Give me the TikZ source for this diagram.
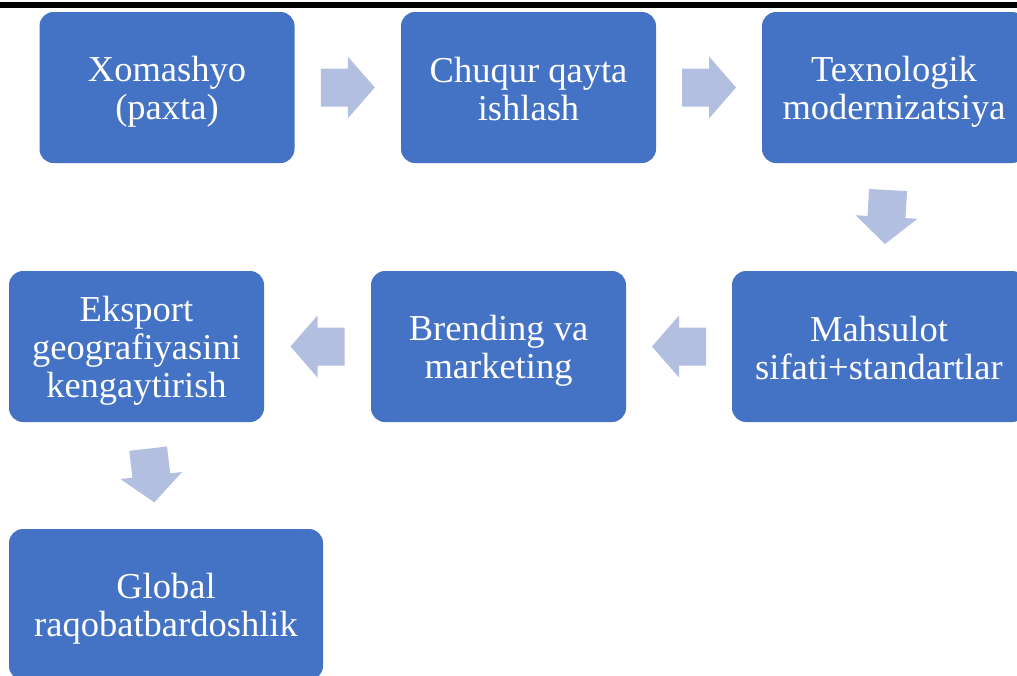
\documentclass[tikz,border=0pt]{standalone}
\usepackage{fontspec}
\setmainfont{Liberation Serif}
\usetikzlibrary{calc}
\definecolor{boxblue}{HTML}{4472C4}
\definecolor{arrowblue}{RGB}{178,191,224}
\newcommand\topst{\rule{0pt}{33pt}}
\newcommand\botst{\rule[-6pt]{0pt}{6pt}}
\tikzset{
 box/.style={fill=boxblue, rounded corners=14pt, text=white, align=center,
   font=\fontsize{36.5}{38}\selectfont, inner sep=0pt, minimum height=151pt},
 barrow/.pic={\fill[arrowblue] (-27,-19) -- (0,-19) -- (0,-31) -- (27,0) -- (0,31) -- (0,19) -- (-27,19) -- cycle;}
}
\begin{document}
\begin{tikzpicture}[x=1pt,y=-1pt]
\useasboundingbox (0,0) rectangle (1017,675);
\clip (0,0) rectangle (1017,675);
\fill[black] (0,1.5) rectangle (1017,7.5);
\node[box, minimum width=255pt] (b1) at (167,87.5) {\topst Xomashyo\\(paxta)\botst};
\node[box, minimum width=255pt] (b2) at (528.5,87.5) {\topst Chuqur qayta\\ishlash\botst};
\node[box, minimum width=264pt] (b3) at (894,87.5) {\topst Texnologik\\modernizatsiya\botst};
\node[box, minimum width=294pt] (b4) at (879,346.5) {\topst Mahsulot\\sifati+standartlar\botst};
\node[box, minimum width=255pt] (b5) at (498.5,346.5) {\topst Brending va\\marketing\botst};
\node[box, minimum width=255pt] (b6) at (136.5,346.5) {\topst Eksport\\geografiyasini\\kengaytirish\botst};
\node[box, minimum width=314pt] (b7) at (166,604.5) {\topst Global\\raqobatbardoshlik\botst};
\pic at ($(b1.east)!0.5!(b2.west)$) {barrow};
\pic at ($(b2.east)!0.5!(b3.west)$) {barrow};
\path let \p1=($(b4.center)-(b3.center)$), \n1={atan2(\y1,\x1)} in ($(b3.center)!0.5!(b4.center)$) pic[rotate=\n1] {barrow};
\pic[rotate=180] at ($(b5.east)!0.5!(b4.west)$) {barrow};
\pic[rotate=180] at ($(b6.east)!0.5!(b5.west)$) {barrow};
\path let \p1=($(b7.center)-(b6.center)$), \n1={atan2(\y1,\x1)} in ($(b6.center)!0.5!(b7.center)$) pic[rotate=\n1] {barrow};
\end{tikzpicture}
\end{document}
